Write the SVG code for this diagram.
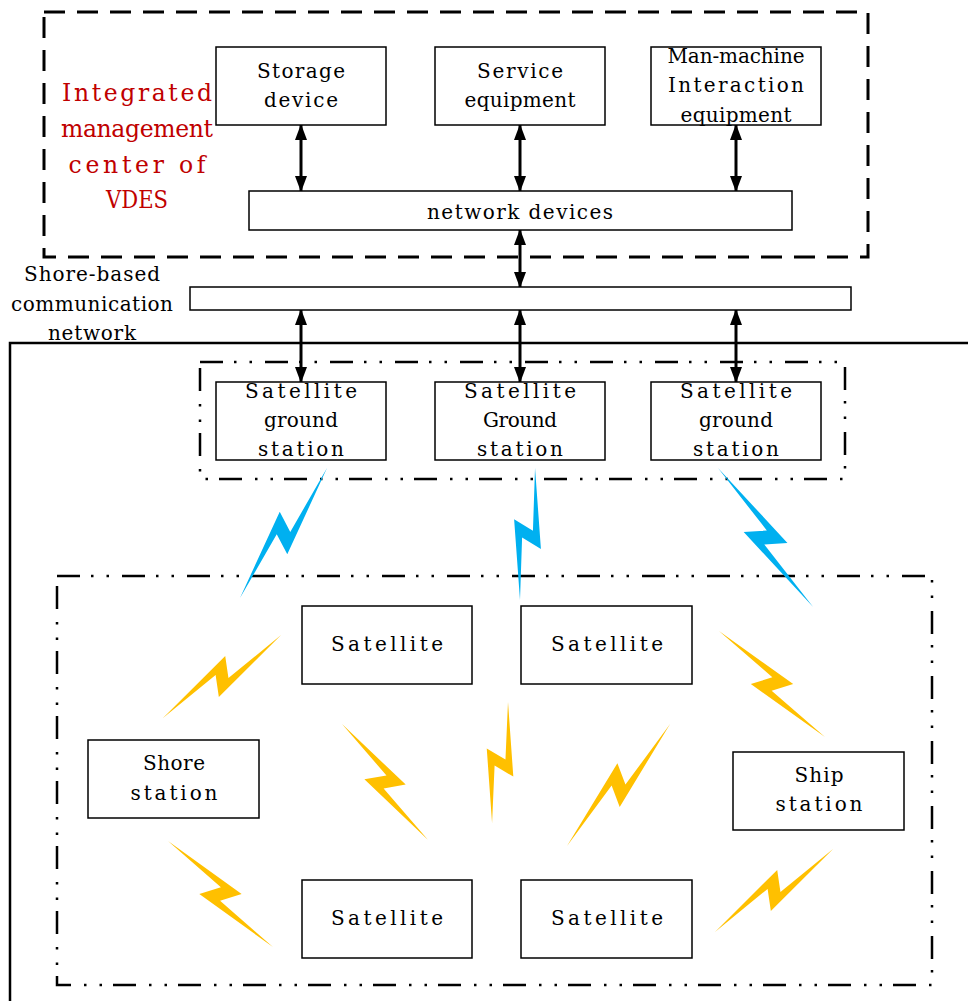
<svg xmlns="http://www.w3.org/2000/svg" width="968" height="1001" viewBox="0 0 968 1001">
<style>
.box{fill:#fff;stroke:#000;stroke-width:1.5}
.t{font-family:"DejaVu Serif",serif;font-size:20px;fill:#000;text-anchor:middle}
.red{font-family:"DejaVu Serif",serif;font-size:23.5px;fill:#C00000;text-anchor:middle}
.dash{fill:none;stroke:#000;stroke-width:3;stroke-dasharray:21 12}
.dd{fill:none;stroke:#000;stroke-width:2.5;stroke-dasharray:23 11 2.5 13 2.5 13}
.ln{stroke:#000;stroke-width:3;fill:none;marker-start:url(#ah);marker-end:url(#ah)}
.blue{fill:#00B0F0}
.gold{fill:#FFC000}
</style>
<defs>
<marker id="ah" viewBox="0 0 16 12" markerWidth="16" markerHeight="12" refX="15" refY="6" markerUnits="userSpaceOnUse" orient="auto-start-reverse">
<path d="M0,0 L16,6 L0,12 Z" fill="#000"/>
</marker>
<path id="bolt" d="M0,0 L60,-15 L53,5 L100,0 L40,15 L47,-5 Z"/>
</defs>

<g id="frames">
<rect class="dash" x="44" y="12" width="824" height="245"/>
<path d="M10,1001 L10,343 L968,343" fill="none" stroke="#000" stroke-width="2.5"/>
<rect class="dd" x="200" y="362" width="645" height="117"/>
<rect class="dd" x="57" y="576" width="875" height="409"/>
</g>

<g id="label-center">
<text class="red" x="137" y="101" textLength="150" lengthAdjust="spacing">Integrated</text>
<text class="red" x="137" y="137" textLength="152" lengthAdjust="spacing">management</text>
<text class="red" x="137" y="173" textLength="137" lengthAdjust="spacing">center of</text>
<text class="red" x="137" y="208" textLength="62" lengthAdjust="spacingAndGlyphs">VDES</text>
</g>

<g id="label-shore-network">
<text class="t" x="92" y="281" textLength="136" lengthAdjust="spacing">Shore-based</text>
<text class="t" x="92" y="311" textLength="162" lengthAdjust="spacing">communication</text>
<text class="t" x="92" y="340" textLength="88" lengthAdjust="spacing">network</text>
</g>

<g id="connectors">
<line class="ln" x1="301" y1="125" x2="301" y2="191"/>
<line class="ln" x1="520" y1="125" x2="520" y2="191"/>
<line class="ln" x1="736" y1="125" x2="736" y2="191"/>
<line class="ln" x1="520" y1="230" x2="520" y2="287"/>
<line class="ln" x1="301" y1="310" x2="301" y2="382"/>
<line class="ln" x1="520" y1="310" x2="520" y2="382"/>
<line class="ln" x1="736" y1="310" x2="736" y2="382"/>
</g>

<g id="storage">
<rect class="box" x="216" y="47" width="170" height="78"/>
<text class="t" x="301" y="78" textLength="88" lengthAdjust="spacing">Storage</text>
<text class="t" x="301" y="107" textLength="74" lengthAdjust="spacing">device</text>
</g>
<g id="service">
<rect class="box" x="435" y="47" width="170" height="78"/>
<text class="t" x="520" y="78" textLength="86" lengthAdjust="spacing">Service</text>
<text class="t" x="520" y="107" textLength="111" lengthAdjust="spacing">equipment</text>
</g>
<g id="hmi">
<rect class="box" x="651" y="47" width="170" height="78"/>
<text class="t" x="736" y="63" textLength="137" lengthAdjust="spacing">Man-machine</text>
<text class="t" x="736" y="92" textLength="136" lengthAdjust="spacing">Interaction</text>
<text class="t" x="736" y="122" textLength="111" lengthAdjust="spacing">equipment</text>
</g>
<g id="network-devices">
<rect class="box" x="249" y="191" width="543" height="39"/>
<text class="t" x="520" y="219" textLength="186" lengthAdjust="spacing">network devices</text>
</g>
<g id="shore-network">
<rect class="box" x="190" y="287" width="661" height="23"/>
</g>

<g id="gs1">
<rect class="box" x="216" y="382" width="170" height="78"/>
<text class="t" x="301" y="398" textLength="112" lengthAdjust="spacing">Satellite</text>
<text class="t" x="301" y="427" textLength="74" lengthAdjust="spacing">ground</text>
<text class="t" x="301" y="456" textLength="86" lengthAdjust="spacing">station</text>
</g>
<g id="gs2">
<rect class="box" x="435" y="382" width="170" height="78"/>
<text class="t" x="520" y="398" textLength="112" lengthAdjust="spacing">Satellite</text>
<text class="t" x="520" y="427" textLength="74" lengthAdjust="spacing">Ground</text>
<text class="t" x="520" y="456" textLength="86" lengthAdjust="spacing">station</text>
</g>
<g id="gs3">
<rect class="box" x="651" y="382" width="170" height="78"/>
<text class="t" x="736" y="398" textLength="112" lengthAdjust="spacing">Satellite</text>
<text class="t" x="736" y="427" textLength="74" lengthAdjust="spacing">ground</text>
<text class="t" x="736" y="456" textLength="86" lengthAdjust="spacing">station</text>
</g>

<g id="sat1">
<rect class="box" x="302" y="606" width="170" height="78"/>
<text class="t" x="387" y="651" textLength="112" lengthAdjust="spacing">Satellite</text>
</g>
<g id="sat2">
<rect class="box" x="521" y="606" width="171" height="78"/>
<text class="t" x="607" y="651" textLength="112" lengthAdjust="spacing">Satellite</text>
</g>
<g id="sat3">
<rect class="box" x="302" y="880" width="170" height="78"/>
<text class="t" x="387" y="925" textLength="112" lengthAdjust="spacing">Satellite</text>
</g>
<g id="sat4">
<rect class="box" x="521" y="880" width="171" height="78"/>
<text class="t" x="607" y="925" textLength="112" lengthAdjust="spacing">Satellite</text>
</g>
<g id="shore-station">
<rect class="box" x="88" y="740" width="171" height="78"/>
<text class="t" x="174" y="770" textLength="62" lengthAdjust="spacing">Shore</text>
<text class="t" x="174" y="800" textLength="87" lengthAdjust="spacing">station</text>
</g>
<g id="ship-station">
<rect class="box" x="733" y="752" width="171" height="78"/>
<text class="t" x="819" y="782" textLength="49" lengthAdjust="spacing">Ship</text>
<text class="t" x="819" y="811" textLength="87" lengthAdjust="spacing">station</text>
</g>

<g id="links">
<use href="#bolt" class="blue" transform="translate(240,598) rotate(-56.2) scale(1.564,1)"/>
<use href="#bolt" class="blue" transform="translate(520,600) rotate(-83.5) scale(1.328,1)"/>
<use href="#bolt" class="blue" transform="translate(718,468) rotate(55.6) scale(1.684,1)"/>
<use href="#bolt" class="gold" transform="translate(163,718) rotate(-35.1) scale(1.443,1)"/>
<use href="#bolt" class="gold" transform="translate(168,841) rotate(45.3) scale(1.492,1)"/>
<use href="#bolt" class="gold" transform="translate(342,724) rotate(53.4) scale(1.444,1)"/>
<use href="#bolt" class="gold" transform="translate(508,702) rotate(97.5) scale(1.221,1)"/>
<use href="#bolt" class="gold" transform="translate(567,846) rotate(-49.8) scale(1.597,1)"/>
<use href="#bolt" class="gold" transform="translate(719,631) rotate(45) scale(1.499,1)"/>
<use href="#bolt" class="gold" transform="translate(715,932) rotate(-35.1) scale(1.443,1)"/>
</g>
</svg>
